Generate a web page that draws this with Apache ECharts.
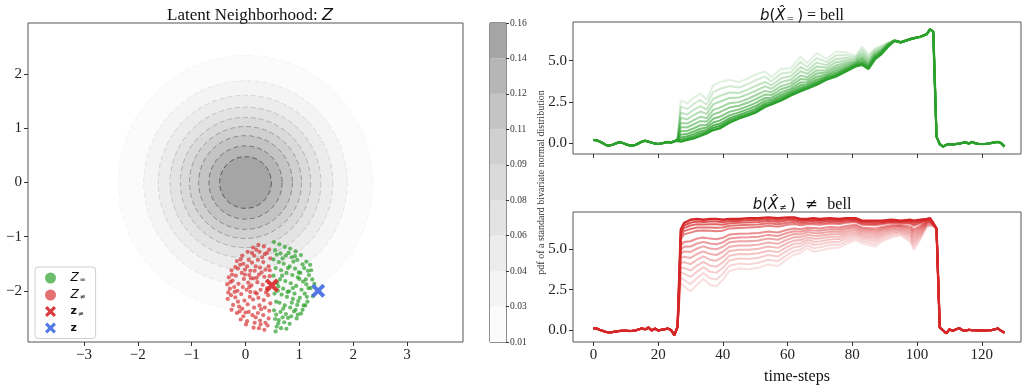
<!DOCTYPE html>
<html style="height: 100%">
<head>
	<meta charset="utf-8">
</head>
<body style="height: 100%; margin: 0; background: #fff">
<div id="container" style="width: 1029px; height: 386px"></div>
<script type="text/javascript" src="https://cdn.jsdelivr.net/npm/echarts@6/dist/echarts.min.js"></script>
<script type="text/javascript">
    // ---- left panel: latent neighbourhood ----
    var latentXTicks = [-3, -2, -1, 0, 1, 2, 3];
    var latentYTicks = [-2, -1, 0, 1, 2];
    var contourCenter = [0, 0];
    // radius of each pdf level contour, outermost first
    var contourRadii = [2.36, 1.89, 1.62, 1.40, 1.21, 1.04, 0.87, 0.68, 0.48];
    var colorbarLabels = ['0.01', '0.03', '0.04', '0.06', '0.08', '0.09', '0.11', '0.12', '0.14', '0.16'];
    var legendNames = ['Zeq', 'Zneq', 'zneq', 'z'];

    var zEqual = [
        [0.53,-1.10],[0.55,-1.25],[0.52,-1.42],[0.56,-1.58],[0.54,-2.05],[0.57,-2.20],[0.53,-2.36],[0.55,-2.52],[0.58,-2.66],[0.56,-2.75],[0.52,-1.72],
        [0.63,-1.14],[0.65,-1.31],[0.62,-1.47],[0.66,-1.62],[0.64,-1.79],[0.61,-1.92],[0.67,-2.07],[0.63,-2.22],[0.65,-2.39],[0.62,-2.54],[0.66,-2.69],[0.60,-2.00],
        [0.73,-1.19],[0.75,-1.35],[0.71,-1.50],[0.76,-1.67],[0.74,-1.82],[0.70,-1.96],[0.77,-2.11],[0.73,-2.27],[0.75,-2.43],[0.72,-2.58],[0.76,-2.70],[0.79,-1.58],
        [0.83,-1.22],[0.86,-1.38],[0.82,-1.55],[0.87,-1.71],[0.84,-1.86],[0.81,-2.01],[0.88,-2.15],[0.83,-2.31],[0.85,-2.47],[0.82,-2.61],[0.89,-1.46],[0.90,-2.38],
        [0.93,-1.27],[0.96,-1.43],[0.92,-1.59],[0.97,-1.75],[0.94,-1.91],[0.91,-2.05],[0.98,-2.19],[0.93,-2.35],[0.95,-2.51],[0.99,-1.66],[0.97,-2.44],
        [1.03,-1.34],[1.06,-1.51],[1.02,-1.67],[1.07,-1.83],[1.04,-1.98],[1.01,-2.13],[1.08,-2.27],[1.03,-2.42],[1.09,-1.58],[1.10,-2.05],
        [1.13,-1.46],[1.16,-1.63],[1.12,-1.79],[1.17,-1.95],[1.14,-2.11],[1.11,-2.27],[1.18,-1.71],[1.15,-2.20],
        [1.22,-1.62],[1.24,-1.79],[1.21,-1.95],[1.25,-2.10],[1.28,-1.87],[1.20,-1.52],
        [0.58,-1.33],[0.69,-1.40],[0.80,-1.30],[0.59,-1.86],[0.70,-2.33],[0.79,-2.50],[0.88,-1.95],[1.00,-1.78],[0.68,-1.72],[0.86,-2.22],
        [0.61,-2.60],[0.78,-2.02],[1.06,-2.35],[0.92,-1.36],[0.57,-2.44],[0.69,-2.49],[1.13,-1.88],[0.96,-2.26]
    ];
    var zNotEqual = [
        [-0.34,-1.88],[-0.32,-2.03],[-0.31,-1.75],[-0.33,-2.15],[-0.29,-1.96],
        [-0.26,-1.62],[-0.24,-1.81],[-0.27,-2.08],[-0.23,-2.26],[-0.25,-1.70],[-0.21,-1.93],[-0.26,-2.35],
        [-0.16,-1.45],[-0.14,-1.59],[-0.18,-1.72],[-0.13,-1.87],[-0.15,-2.00],[-0.19,-2.12],[-0.12,-2.29],[-0.16,-2.41],[-0.10,-1.52],[-0.14,-2.20],
        [-0.06,-1.35],[-0.04,-1.50],[-0.07,-1.67],[-0.03,-1.78],[-0.05,-1.93],[-0.08,-2.06],[-0.02,-2.18],[-0.06,-2.33],[-0.04,-2.47],[-0.01,-1.61],[-0.09,-2.53],
        [0.04,-1.28],[0.06,-1.43],[0.03,-1.55],[0.07,-1.71],[0.05,-1.85],[0.02,-1.98],[0.08,-2.11],[0.04,-2.25],[0.06,-2.39],[0.03,-2.56],[0.09,-1.63],[0.01,-2.62],[0.07,-1.93],
        [0.14,-1.20],[0.16,-1.35],[0.12,-1.48],[0.17,-1.63],[0.15,-1.77],[0.11,-1.90],[0.18,-2.03],[0.14,-2.16],[0.16,-2.31],[0.13,-2.45],[0.17,-2.59],[0.15,-2.68],[0.19,-1.55],
        [0.24,-1.15],[0.26,-1.28],[0.23,-1.43],[0.27,-1.57],[0.25,-1.70],[0.22,-1.84],[0.28,-1.98],[0.24,-2.13],[0.26,-2.27],[0.23,-2.41],[0.27,-2.55],[0.25,-2.69],[0.21,-2.05],
        [0.34,-1.18],[0.36,-1.32],[0.33,-1.47],[0.37,-1.61],[0.35,-1.74],[0.32,-1.89],[0.38,-2.03],[0.34,-2.17],[0.36,-2.31],[0.33,-2.45],[0.37,-2.59],[0.35,-2.72],[0.31,-1.38],
        [0.44,-1.24],[0.46,-1.40],[0.43,-1.55],[0.45,-1.73],[0.42,-2.08],[0.46,-2.23],[0.44,-2.37],[0.43,-2.51],[0.41,-2.64],[0.45,-1.62],
        [-0.20,-2.02],[-0.09,-1.42],[0.00,-2.40],[0.10,-1.77],[0.20,-1.24],[0.29,-2.34],[0.40,-1.30],[0.19,-2.49],[-0.28,-1.84],[0.09,-2.02],
        [0.30,-1.66],[-0.11,-2.38],[0.40,-1.95],[0.21,-1.76],[-0.01,-1.70],[0.28,-2.62],[0.12,-1.30],[-0.19,-1.56]
    ];
    var zNotEqualPoint = [[0.49, -1.90]];
    var zPoint = [[1.35, -2.00]];

    // ---- right panels: time series ----
    var timeTicks = [0, 20, 40, 60, 80, 100, 120];
    var valueTicks = [0, 2.5, 5];

    var greenPre = [[0,0.2],[1,0.18],[2,0.1],[3,0.0],[4,-0.12],[5,-0.14],[6,-0.08],[7,0.0],[8,0.06],[9,0.02],[10,-0.06],[11,-0.12],[12,-0.14],[13,-0.1],[14,0.0],[15,0.1],[16,0.15],[17,0.1],[18,0.04],[19,-0.02],[20,-0.04],[21,-0.02],[22,0.04],[23,0.08],[24,0.05],[25,0.12]];
    var greenPost = [[106,0.4],[107,-0.05],[108,-0.2],[109,-0.1],[110,-0.05],[111,-0.08],[112,-0.05],[113,-0.02],[114,0.02],[115,0.06],[116,-0.02],[117,0.08],[118,0.0],[119,-0.04],[120,-0.05],[121,-0.04],[122,-0.02],[123,0.02],[124,0.06],[125,0.08],[126,0.0],[127,-0.2]];
    var greenTimes = [26,27,29,31,33,35,37,39,42,45,48,50,53,55,58,61,64,66,69,72,75,78,81,83,85,87,89,91,93,95,98,101,103,104,105];
    // darkest (lowest) line first, lightest (highest) last
    var greenLines = [
        [0.15,0.1,0.2,0.3,0.45,0.6,0.8,0.9,1.25,1.5,1.7,1.85,2.2,2.35,2.6,2.9,3.15,3.3,3.55,3.85,4.05,4.35,4.65,4.75,4.5,5.1,5.4,5.85,6.2,6.1,6.3,6.45,6.6,6.9,6.75],
        [0.16,0.22,0.3,0.42,0.58,0.7,0.93,1.04,1.38,1.61,1.81,1.96,2.31,2.43,2.69,2.98,3.25,3.38,3.64,3.91,4.12,4.41,4.68,4.8,4.54,5.13,5.42,5.86,6.2,6.1,6.3,6.45,6.6,6.9,6.75],
        [0.17,0.35,0.42,0.55,0.71,0.81,1.07,1.18,1.51,1.72,1.93,2.08,2.42,2.52,2.79,3.07,3.36,3.46,3.74,3.98,4.2,4.47,4.72,4.86,4.59,5.17,5.45,5.88,6.2,6.11,6.3,6.45,6.6,6.9,6.75],
        [0.18,0.52,0.57,0.71,0.88,0.95,1.26,1.37,1.69,1.87,2.08,2.24,2.57,2.63,2.92,3.18,3.51,3.56,3.87,4.06,4.3,4.55,4.77,4.93,4.64,5.21,5.49,5.9,6.2,6.11,6.31,6.45,6.6,6.9,6.75],
        [0.19,0.73,0.75,0.91,1.09,1.11,1.48,1.6,1.9,2.05,2.26,2.43,2.74,2.76,3.08,3.31,3.68,3.69,4.03,4.16,4.43,4.64,4.82,5.03,4.71,5.26,5.53,5.91,6.21,6.11,6.31,6.45,6.6,6.9,6.75],
        [0.2,0.97,0.97,1.15,1.34,1.31,1.75,1.88,2.16,2.27,2.48,2.66,2.95,2.92,3.27,3.47,3.89,3.84,4.22,4.28,4.57,4.75,4.88,5.13,4.79,5.32,5.58,5.93,6.21,6.11,6.31,6.45,6.6,6.9,6.75],
        [0.22,1.22,1.19,1.4,1.6,1.52,2.02,2.16,2.42,2.49,2.71,2.89,3.17,3.09,3.46,3.64,4.1,4.0,4.41,4.41,4.72,4.87,4.94,5.24,4.88,5.39,5.63,5.96,6.22,6.12,6.32,6.45,6.6,6.9,6.75],
        [0.24,1.53,1.46,1.71,1.92,1.78,2.35,2.51,2.74,2.77,2.99,3.17,3.44,3.3,3.7,3.85,4.36,4.2,4.64,4.57,4.91,5.01,5.02,5.38,4.99,5.47,5.69,6.0,6.22,6.12,6.33,6.45,6.6,6.9,6.75],
        [0.26,1.85,1.74,2.02,2.24,2.04,2.69,2.86,3.07,3.04,3.28,3.46,3.71,3.51,3.93,4.06,4.62,4.39,4.88,4.73,5.1,5.16,5.1,5.52,5.1,5.56,5.75,6.03,6.23,6.13,6.34,6.45,6.6,6.9,6.75],
        [0.28,2.23,2.07,2.38,2.62,2.34,3.1,3.28,3.46,3.37,3.61,3.81,4.03,3.75,4.22,4.3,4.94,4.62,5.16,4.91,5.32,5.33,5.2,5.69,5.23,5.66,5.83,6.06,6.24,6.14,6.34,6.45,6.6,6.9,6.75],
        [0.3,2.6,2.4,2.75,3.0,2.65,3.5,3.7,3.85,3.7,3.95,4.15,4.35,4.0,4.5,4.55,5.25,4.85,5.45,5.1,5.55,5.5,5.3,5.85,5.35,5.75,5.9,6.1,6.25,6.15,6.35,6.45,6.6,6.9,6.75]
    ];

    var redPre = [[0,0.12],[1,0.1],[2,0.02],[3,-0.05],[4,-0.12],[5,-0.14],[6,-0.12],[7,-0.08],[8,-0.05],[9,-0.04],[10,-0.03],[11,-0.05],[12,-0.04],[13,-0.02],[14,0.05],[15,0.1],[16,0.05],[17,0.16],[18,-0.02],[19,0.1],[20,-0.02],[21,0.02],[22,0.05],[23,0.1],[24,0.0],[25,-0.3]];
    var redPost = [[106,6.25],[107,0.15],[108,0.0],[109,-0.2],[110,0.05],[111,-0.05],[112,0.05],[113,0.12],[114,0.0],[115,-0.02],[116,0.02],[117,0.0],[118,0.0],[119,-0.02],[120,-0.02],[121,-0.02],[122,0.0],[123,0.0],[124,0.05],[125,0.1],[126,-0.05],[127,-0.15]];
    var redTimes = [26,27,28,30,32,34,36,38,40,42,45,48,51,54,57,60,62,64,66,68,70,73,76,78,81,83,85,87,89,92,95,98,99,101,103,104,105];
    // darkest (highest) line first, lightest (lowest) last
    var redLines = [
        [0.2,6.2,6.6,6.8,6.85,6.8,6.85,6.85,6.8,6.85,6.85,6.9,6.9,6.95,6.9,6.95,6.95,6.85,6.85,6.9,6.85,6.9,6.85,6.9,6.9,6.75,6.75,6.75,6.75,6.8,6.75,6.8,6.75,6.8,6.85,6.9,6.6],
        [0.2,6.08,6.45,6.62,6.69,6.66,6.69,6.69,6.65,6.72,6.73,6.78,6.78,6.84,6.78,6.85,6.86,6.77,6.78,6.82,6.77,6.83,6.78,6.84,6.85,6.7,6.69,6.69,6.7,6.76,6.72,6.75,6.68,6.75,6.83,6.88,6.59],
        [0.2,5.94,6.29,6.45,6.53,6.51,6.53,6.52,6.5,6.59,6.61,6.65,6.66,6.72,6.66,6.75,6.77,6.68,6.71,6.74,6.69,6.75,6.71,6.77,6.79,6.64,6.63,6.62,6.65,6.71,6.68,6.69,6.61,6.7,6.81,6.86,6.58],
        [0.2,5.78,6.1,6.23,6.33,6.33,6.33,6.31,6.32,6.43,6.46,6.49,6.51,6.58,6.52,6.62,6.66,6.58,6.62,6.64,6.6,6.66,6.63,6.69,6.73,6.57,6.56,6.54,6.59,6.66,6.64,6.62,6.52,6.64,6.78,6.83,6.57],
        [0.2,5.61,5.9,6.01,6.12,6.14,6.12,6.1,6.13,6.27,6.3,6.33,6.35,6.43,6.37,6.49,6.54,6.47,6.53,6.53,6.5,6.57,6.54,6.61,6.66,6.5,6.48,6.46,6.52,6.6,6.59,6.55,6.43,6.58,6.76,6.81,6.56],
        [0.2,5.21,5.43,5.48,5.64,5.71,5.64,5.6,5.69,5.89,5.94,5.96,5.99,6.08,6.02,6.19,6.26,6.22,6.31,6.29,6.27,6.35,6.33,6.42,6.5,6.33,6.3,6.27,6.36,6.47,6.48,6.38,6.21,6.44,6.7,6.75,6.54],
        [0.2,4.95,5.14,5.15,5.34,5.44,5.34,5.29,5.41,5.65,5.71,5.72,5.76,5.87,5.8,6.0,6.09,6.06,6.17,6.14,6.12,6.21,6.2,6.3,6.4,6.23,6.19,6.15,6.26,6.39,6.42,6.28,6.08,6.35,6.66,6.71,6.52],
        [0.2,4.72,4.85,4.82,5.03,5.16,5.03,4.98,5.14,5.41,5.48,5.48,5.53,5.65,5.57,5.8,5.92,5.9,6.04,5.98,5.97,6.07,6.06,6.18,6.29,6.12,6.08,6.03,6.17,6.31,6.35,6.17,5.94,6.26,6.63,6.68,6.51],
        [0.2,4.44,4.52,4.45,4.69,4.85,4.69,4.63,4.83,5.14,5.22,5.22,5.27,5.4,5.32,5.59,5.72,5.73,5.89,5.81,5.81,5.91,5.92,6.05,6.18,6.0,5.95,5.9,6.06,6.22,6.27,6.05,5.79,6.16,6.59,6.64,6.5],
        [0.2,4.15,4.18,4.07,4.34,4.54,4.34,4.28,4.51,4.87,4.96,4.95,5.01,5.15,5.07,5.37,5.52,5.55,5.73,5.63,5.64,5.75,5.77,5.91,6.06,5.88,5.82,5.76,5.94,6.12,6.19,5.93,5.63,6.06,6.54,6.59,6.48],
        [0.2,3.86,3.83,3.68,3.98,4.21,3.98,3.91,4.18,4.58,4.69,4.67,4.74,4.89,4.81,5.14,5.32,5.36,5.57,5.45,5.47,5.59,5.61,5.77,5.94,5.76,5.69,5.62,5.83,6.02,6.11,5.81,5.47,5.95,6.5,6.55,6.46],
        [0.2,3.56,3.48,3.28,3.61,3.88,3.61,3.53,3.84,4.29,4.41,4.38,4.46,4.63,4.54,4.91,5.11,5.17,5.41,5.26,5.29,5.42,5.45,5.62,5.82,5.63,5.55,5.47,5.71,5.92,6.03,5.68,5.31,5.84,6.45,6.5,6.44],
        [0.2,3.23,3.09,2.84,3.2,3.52,3.2,3.12,3.47,3.97,4.1,4.06,4.15,4.34,4.24,4.65,4.88,4.96,5.23,5.05,5.1,5.24,5.27,5.46,5.68,5.49,5.4,5.31,5.58,5.81,5.94,5.54,5.13,5.72,6.4,6.45,6.42],
        [0.2,2.9,2.7,2.4,2.8,3.15,2.8,2.7,3.1,3.65,3.8,3.75,3.85,4.05,3.95,4.4,4.65,4.75,5.05,4.85,4.9,5.05,5.1,5.3,5.55,5.35,5.25,5.15,5.45,5.7,5.85,5.4,4.95,5.6,6.35,6.4,6.4]
    ];

    var SERIF = '"Liberation Serif", "DejaVu Serif", serif';
    var SANS = '"DejaVu Sans", sans-serif';
    var GREEN = '#2ca02c', RED = '#d62728', BLUE = '#4169e1';
    var bandColors = ['#fbfbfb', '#f4f4f4', '#ececec', '#e3e3e3', '#dadada', '#d0d0d0', '#c4c4c4', '#b6b6b6', '#a5a5a5'];
    var contourLineColors = ['#f4f4f4', '#e6e6e6', '#d4d4d4', '#c2c2c2', '#b0b0b0', '#9c9c9c', '#888888', '#727272', '#585858'];
    var CROSS = 'path://M2,0 L5,3 L8,0 L10,2 L7,5 L10,8 L8,10 L5,7 L2,10 L0,8 L3,5 L0,2 Z';

    function minus(v) { return String(v).replace('-', '\u2212'); }

    function buildLine(pre, times, vals, post) {
        var mid = times.map(function (t, i) { return [t, vals[i]]; });
        return pre.concat(mid, post);
    }

    // alpha for line i of n: darkest at 0, fading out
    function fade(i, n, k) {
        return 1 - 0.85 * Math.pow(i / (n - 1), k);
    }

    var dom = document.getElementById('container');
    var myChart = echarts.init(dom, null, {renderer: 'canvas'});

    var tickStyle = {show: true, length: 4, lineStyle: {color: '#333', width: 1}};
    var labelBase = {fontFamily: SERIF, fontSize: 15, color: '#222'};
    var hiddenLine = {show: false, onZero: false};

    var grids = [
        {left: 28, top: 23, width: 435, height: 319},
        {left: 490, top: 23, width: 16, height: 319},
        {left: 573, top: 22, width: 448, height: 132},
        {left: 573, top: 212, width: 448, height: 131}
    ];
    grids.forEach(function (g) {
        g.show = true; g.borderColor = '#555'; g.borderWidth = 1; g.backgroundColor = 'transparent'; g.containLabel = false;
    });
    grids[1].borderColor = '#222';

    var series = [];

    // filled contour disks, outermost first
    series.push({
        type: 'custom',
        xAxisIndex: 0, yAxisIndex: 0,
        silent: true,
        clip: true,
        data: contourRadii.map(function (r) { return [contourCenter[0], contourCenter[1], r]; }),
        encode: {x: 0, y: 1},
        renderItem: function (params, api) {
            var c = api.coord([api.value(0), api.value(1)]);
            var rp = api.size([api.value(2), api.value(2)]);
            var i = params.dataIndex;
            return {
                type: 'circle',
                shape: {cx: c[0], cy: c[1], r: rp[0]},
                style: {fill: bandColors[i], stroke: contourLineColors[i], lineWidth: 1, lineDash: [5, 3]}
            };
        },
        z: 1
    });

    series.push({
        name: 'Zeq', type: 'scatter', xAxisIndex: 0, yAxisIndex: 0,
        data: zEqual, symbol: 'circle', symbolSize: 4.2,
        itemStyle: {color: GREEN, opacity: 0.7}, z: 3
    });
    series.push({
        name: 'Zneq', type: 'scatter', xAxisIndex: 0, yAxisIndex: 0,
        data: zNotEqual, symbol: 'circle', symbolSize: 4.2,
        itemStyle: {color: RED, opacity: 0.65}, z: 3
    });
    series.push({
        name: 'zneq', type: 'scatter', xAxisIndex: 0, yAxisIndex: 0,
        data: zNotEqualPoint, symbol: CROSS, symbolSize: 14,
        itemStyle: {color: RED, opacity: 0.9}, z: 4
    });
    series.push({
        name: 'z', type: 'scatter', xAxisIndex: 0, yAxisIndex: 0,
        data: zPoint, symbol: CROSS, symbolSize: 14,
        itemStyle: {color: BLUE, opacity: 0.9}, z: 4
    });

    // colorbar bands
    bandColors.forEach(function (col) {
        series.push({
            type: 'bar', xAxisIndex: 1, yAxisIndex: 1, stack: 'cb', silent: true,
            data: [1], barWidth: '100%', itemStyle: {color: col}
        });
    });

    // green curves, lightest drawn first
    for (var gi = greenLines.length - 1; gi >= 0; gi--) {
        series.push({
            type: 'line', xAxisIndex: 2, yAxisIndex: 2, showSymbol: false, silent: true,
            data: buildLine(greenPre, greenTimes, greenLines[gi], greenPost),
            lineStyle: {color: GREEN, width: gi === 0 ? 2.4 : 2, opacity: fade(gi, greenLines.length, 0.8)}
        });
    }
    // red curves, lightest drawn first
    for (var ri = redLines.length - 1; ri >= 0; ri--) {
        series.push({
            type: 'line', xAxisIndex: 3, yAxisIndex: 3, showSymbol: false, silent: true,
            data: buildLine(redPre, redTimes, redLines[ri], redPost),
            lineStyle: {color: RED, width: ri === 0 ? 2.4 : 2, opacity: fade(ri, redLines.length, 0.6)}
        });
    }

    var legendText = {
        Zeq: '{z|Z}{s|=}',
        Zneq: '{z|Z}{s|\u2260}',
        zneq: '{b|z}{s|\u2260}',
        z: '{b|z}'
    };

    function richTitle(extra) {
        var base = {
            m: {fontFamily: SANS, fontStyle: 'italic', fontWeight: 'normal', fontSize: 15, color: '#111'},
            p: {fontFamily: SANS, fontWeight: 'normal', fontSize: 15, color: '#111'},
            x: {fontFamily: SANS, fontStyle: 'italic', fontWeight: 'normal', fontSize: 15, color: '#111'},
            s: {fontFamily: SANS, fontWeight: 'normal', fontSize: 9, color: '#111', padding: [6, 3, 0, 1]},
            r: {fontFamily: SERIF, fontWeight: 'normal', fontSize: 16, color: '#111'},
            q: {fontFamily: SERIF, fontWeight: 'normal', fontSize: 16, color: '#111'}
        };
        return Object.assign(base, extra || {});
    }

    var option = {
        backgroundColor: '#fff',
        animation: false,
        title: [
            {
                text: '{r|Latent Neighborhood: }{m|Z}', left: 245, top: 2, textAlign: 'center',
                textStyle: {fontWeight: 'normal', rich: richTitle({r: {fontFamily: SERIF, fontWeight: 'normal', fontSize: 17, color: '#111'}, m: {fontFamily: SANS, fontStyle: 'italic', fontWeight: 'normal', fontSize: 16, color: '#111'}})}
            },
            {
                text: '{m|b}{p|(}{x|X\u0302}{s|=}{p|)}{r| = bell}', left: 797, top: 3, textAlign: 'center',
                textStyle: {fontWeight: 'normal', rich: richTitle()}
            },
            {
                text: '{m|b}{p|(}{x|X\u0302}{s|\u2260}{p|)}{p|  \u2260  }{q|bell}', left: 797, top: 192, textAlign: 'center',
                textStyle: {fontWeight: 'normal', rich: richTitle()}
            }
        ],
        legend: {
            data: legendNames,
            left: 35, top: 267,
            orient: 'vertical',
            itemWidth: 12, itemHeight: 11, itemGap: 5,
            padding: [5, 10, 5, 10],
            borderColor: '#cfcfcf', borderWidth: 1, borderRadius: 3,
            backgroundColor: 'rgba(255,255,255,0.8)',
            selectedMode: false,
            formatter: function (name) { return legendText[name]; },
            textStyle: {rich: {
                z: {fontFamily: SANS, fontStyle: 'italic', fontSize: 12, color: '#111', padding: [0, 0, 0, 9]},
                b: {fontFamily: SANS, fontWeight: 'bold', fontSize: 11, color: '#111', padding: [0, 0, 0, 9]},
                s: {fontFamily: SANS, fontSize: 7, color: '#111', padding: [5, 0, 0, 1]}
            }}
        },
        grid: grids,
        xAxis: [
            {
                gridIndex: 0, type: 'value', min: -4.04, max: 4.04,
                axisLine: hiddenLine, splitLine: {show: false},
                axisTick: Object.assign({customValues: latentXTicks}, tickStyle),
                axisLabel: Object.assign({customValues: latentXTicks, margin: 6, formatter: minus}, labelBase)
            },
            {
                gridIndex: 1, type: 'category', data: [''],
                axisLine: hiddenLine, axisTick: {show: false}, axisLabel: {show: false}
            },
            {
                gridIndex: 2, type: 'value', min: -6.3, max: 132.1,
                axisLine: hiddenLine, splitLine: {show: false},
                axisTick: Object.assign({customValues: timeTicks}, tickStyle),
                axisLabel: {show: false}
            },
            {
                gridIndex: 3, type: 'value', min: -6.3, max: 132.1,
                axisLine: hiddenLine, splitLine: {show: false},
                axisTick: Object.assign({customValues: timeTicks}, tickStyle),
                axisLabel: Object.assign({customValues: timeTicks, margin: 6}, labelBase),
                name: 'time-steps', nameLocation: 'middle', nameGap: 27,
                nameTextStyle: {fontFamily: SERIF, fontSize: 16, color: '#111'}
            }
        ],
        yAxis: [
            {
                gridIndex: 0, type: 'value', min: -2.945, max: 2.945,
                axisLine: hiddenLine, splitLine: {show: false},
                axisTick: Object.assign({customValues: latentYTicks}, tickStyle),
                axisLabel: Object.assign({customValues: latentYTicks, margin: 6, formatter: minus}, labelBase)
            },
            {
                gridIndex: 1, type: 'value', min: 0, max: 9, interval: 1, position: 'right',
                axisLine: hiddenLine, splitLine: {show: false},
                axisTick: {show: true, length: 3, lineStyle: {color: '#333'}},
                axisLabel: {fontFamily: SERIF, fontSize: 9.5, color: '#333', margin: 4,
                    formatter: function (v) { return colorbarLabels[Math.round(v)]; }},
                name: 'pdf of a standard bivariate normal distribution',
                nameLocation: 'middle', nameRotate: 90, nameGap: 30,
                nameTextStyle: {fontFamily: SERIF, fontSize: 10, color: '#333'}
            },
            {
                gridIndex: 2, type: 'value', min: -0.65, max: 7.34,
                axisLine: hiddenLine, splitLine: {show: false},
                axisTick: Object.assign({customValues: valueTicks}, tickStyle),
                axisLabel: Object.assign({customValues: valueTicks, margin: 6,
                    formatter: function (v) { return v.toFixed(1); }}, labelBase)
            },
            {
                gridIndex: 3, type: 'value', min: -0.73, max: 7.28,
                axisLine: hiddenLine, splitLine: {show: false},
                axisTick: Object.assign({customValues: valueTicks}, tickStyle),
                axisLabel: Object.assign({customValues: valueTicks, margin: 6,
                    formatter: function (v) { return v.toFixed(1); }}, labelBase)
            }
        ],
        series: series
    };

    myChart.setOption(option);
</script>
</body>
</html>
